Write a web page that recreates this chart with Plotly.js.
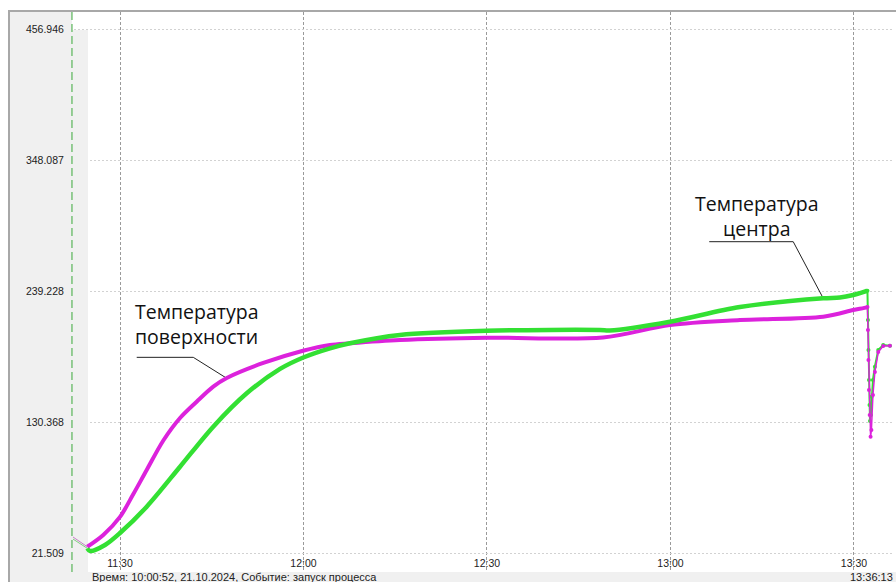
<!DOCTYPE html>
<html>
<head>
<meta charset="utf-8">
<script src="https://cdn.plot.ly/plotly-3.0.1.min.js"></script>
<style>html,body{margin:0;padding:0;background:#fff;}#chart{width:896px;height:582px;}</style>
</head>
<body>
<div id="chart"></div>
<script>
// ---- data (time of day on 21.10.2024, temperature) ----
const day = '2024-10-21 ';

// Surface temperature (magenta)
const surfaceLeadTime = ['11:22:19', '11:24:39'];
const surfaceLeadTemp = [34.8, 26.7];
const surfaceTime = ['11:24:39', '11:27:16', '11:30:00', '11:32:11', '11:34:22', '11:37:05', '11:39:49', '11:42:32',
  '11:45:15', '11:47:27', '11:53:26', '11:59:55', '12:04:20', '12:07:36', '12:15:46', '12:29:57', '12:48:58',
  '12:59:55', '13:11:21', '13:24:58', '13:29:53', '13:32:04', '13:32:12'];
const surfaceTemp = [26.7, 36.5, 51.5, 70.5, 90.5, 115.0, 133.7, 147.2,
  159.7, 166.9, 179.4, 189.6, 194.4, 195.8, 198.5, 200.4, 200.6,
  211.0, 215.1, 217.9, 223.4, 225.7, 226.0];
const surfaceDropTime = ['13:32:12', '13:32:17', '13:32:22', '13:32:27', '13:32:34', '13:32:43', '13:32:51',
  '13:33:06', '13:33:25', '13:33:58', '13:34:47', '13:35:53'];
const surfaceDropTemp = [226.0, 206.8, 181.9, 157.0, 136.2, 118.2, 123.7,
  152.8, 171.9, 188.5, 193.5, 193.8];

// Center temperature (green)
const centerLeadTime = ['11:22:19', '11:24:39'];
const centerLeadTemp = [33.1, 25.4];
const centerTime = ['11:24:39', '11:25:06', '11:27:33', '11:30:00', '11:34:22', '11:39:49', '11:45:15', '11:50:43',
  '11:56:10', '11:59:58', '12:04:20', '12:07:36', '12:15:46', '12:29:57', '12:48:28', '12:50:06',
  '12:59:55', '13:11:21', '13:24:58', '13:27:42', '13:29:53', '13:32:04', '13:32:12'];
const centerTemp = [25.4, 23.2, 28.2, 38.1, 60.0, 93.2, 126.5, 154.2,
  174.5, 184.0, 191.6, 195.8, 202.7, 206.2, 206.8, 206.4,
  213.7, 225.9, 233.2, 233.8, 235.9, 239.2, 239.4];
const centerDropTime = ['13:32:12', '13:32:17', '13:32:22', '13:32:27', '13:32:32', '13:32:37', '13:32:46',
  '13:32:53', '13:33:06', '13:33:25', '13:33:58', '13:34:47', '13:35:53'];
const centerDropTemp = [239.4, 215.1, 190.2, 165.3, 144.5, 131.2, 136.2,
  151.4, 165.3, 176.3, 190.2, 194.4, 193.8];

// Axis ticks
const xTickTimes = ['11:30', '12:00', '12:30', '13:00', '13:30'];
const xTickText = ['11:30', '12:00', '12:30', '13:00', '13:30'];
const yTickVals = [21.509, 130.368, 239.228, 348.087, 456.946];
const yTickText = ['21.509', '130.368', '239.228', '348.087', '456.946'];

// Labels
const surfaceLabel = 'Температура<br>поверхности';
const centerLabel = 'Температура<br>центра';
const footerText = 'Время: 10:00:52, 21.10.2024, Событие: запуск процесса';
const endTimeText = '13:36:13';

// ---- styling ----
const MAGENTA = '#dc22dc';
const GREEN = '#33e033';
const PANEL = '#f0f0f0';
const t = a => a.map(s => day + s);

const traces = [
  {x: t(surfaceLeadTime), y: surfaceLeadTemp, mode: 'lines', line: {color: '#c77fc7', width: 1}, hoverinfo: 'skip'},
  {x: t(centerLeadTime), y: centerLeadTemp, mode: 'lines', line: {color: '#7fcf7f', width: 1}, hoverinfo: 'skip'},
  {x: t(surfaceTime), y: surfaceTemp, mode: 'lines', line: {color: MAGENTA, width: 4, shape: 'spline', smoothing: 0.9}, name: 'Температура поверхности'},
  {x: t(centerTime), y: centerTemp, mode: 'lines', line: {color: GREEN, width: 4.5, shape: 'spline', smoothing: 0.9}, name: 'Температура центра'},
  {x: t(centerDropTime), y: centerDropTemp, mode: 'lines+markers', line: {color: GREEN, width: 2}, marker: {color: GREEN, size: 4}, hoverinfo: 'skip'},
  {x: t(surfaceDropTime), y: surfaceDropTemp, mode: 'lines+markers', line: {color: MAGENTA, width: 1.5}, marker: {color: MAGENTA, size: 4}, hoverinfo: 'skip'}
];

// frame geometry (pixels)
const W = 896, H = 582, ML = 10, MR = 4, MT = 12, MB = 10;
const PW = W - ML - MR, PH = H - MT - MB;
const px = v => (v - ML) / PW;          // pixel x -> paper
const py = v => (H - MB - v) / PH;      // pixel y -> paper
const AXIS_X = 72;                      // where the value axis sits

const xRange = [day + '11:12:01', day + '13:36:13'];
const yRange = [5.72, 471.07];
const axisTime = day + '11:22:09';      // time at the value axis
const panelEndTime = day + '11:24:46';  // end of the grey strip next to the axis
const panelTopValue = 456.11;

const layout = {
  width: W, height: H,
  margin: {l: ML, r: MR, t: MT, b: MB, pad: 0},
  paper_bgcolor: '#ffffff', plot_bgcolor: '#ffffff',
  showlegend: false,
  font: {family: 'Liberation Sans, Arial, sans-serif', size: 11, color: '#222'},
  xaxis: {
    type: 'date', range: xRange.slice(),
    tickmode: 'array', tickvals: t(xTickTimes), ticktext: xTickText,
    ticklabelposition: 'inside', ticks: '',
    tickfont: {family: 'Liberation Sans, Arial, sans-serif', size: 10.5, color: '#222'},
    showgrid: true, gridcolor: '#9a9a9a', gridwidth: 1, griddash: '3px,2px',
    zeroline: false, showline: false
  },
  yaxis: {
    range: yRange.slice(),
    anchor: 'free', position: px(AXIS_X),
    tickmode: 'array', tickvals: yTickVals, ticktext: yTickText,
    ticks: 'outside', ticklen: 6, tickcolor: 'rgba(0,0,0,0)',
    tickfont: {family: 'Liberation Sans, Arial, sans-serif', size: 10.5, color: '#222'},
    showgrid: true, gridcolor: '#d2d2d2', gridwidth: 1, griddash: '2px,2px',
    zeroline: false, showline: false
  },
  shapes: [
    // grey label panel and grey strip next to the axis (above grid, below traces)
    {type: 'rect', xref: 'x', yref: 'y', x0: xRange[0], x1: axisTime, y0: yRange[0], y1: yRange[1], fillcolor: PANEL, line: {width: 0}, layer: 'between'},
    {type: 'rect', xref: 'x', yref: 'y', x0: axisTime, x1: panelEndTime, y0: yRange[0], y1: panelTopValue, fillcolor: PANEL, line: {width: 0}, layer: 'between'},
    // green dashed event line at the axis
    {type: 'line', xref: 'x', yref: 'y', x0: axisTime, x1: axisTime, y0: yRange[0], y1: yRange[1], line: {color: '#3aa83a', width: 1, dash: '8px,4px'}, layer: 'between'},
    // callout leaders
    {type: 'line', xref: 'x', yref: 'y', x0: day + '11:32:44', x1: day + '11:41:59', y0: 184.1, y1: 184.1, line: {color: '#222', width: 1}, layer: 'between'},
    {type: 'line', xref: 'x', yref: 'y', x0: day + '11:41:59', x1: day + '11:47:27', y0: 184.1, y1: 166.7, line: {color: '#222', width: 1}, layer: 'between'},
    {type: 'line', xref: 'x', yref: 'y', x0: day + '13:06:20', x1: day + '13:20:04', y0: 280.2, y1: 280.2, line: {color: '#222', width: 1}, layer: 'between'},
    {type: 'line', xref: 'x', yref: 'y', x0: day + '13:20:04', x1: day + '13:24:58', y0: 280.2, y1: 233.2, line: {color: '#222', width: 1}, layer: 'between'},
    // bottom status strip and frame lines (outside the plot area)
    {type: 'rect', xref: 'paper', yref: 'paper', x0: px(8), x1: px(896), y0: py(582), y1: 0, fillcolor: PANEL, line: {width: 0}, layer: 'below'},
    {type: 'line', xref: 'paper', yref: 'paper', x0: px(8), x1: px(896), y0: py(11), y1: py(11), line: {color: '#a8a8a8', width: 2}, layer: 'below'},
    {type: 'line', xref: 'paper', yref: 'paper', x0: px(9), x1: px(9), y0: py(582), y1: py(11), line: {color: '#a8a8a8', width: 2}, layer: 'below'}
  ],
  annotations: [
    {text: surfaceLabel, xref: 'x', yref: 'y', x: day + '11:32:08', y: 211.8, xanchor: 'left', yanchor: 'middle', align: 'left', showarrow: false,
      font: {family: 'Open Sans, Noto Sans, sans-serif', size: 19.5, color: '#111'}},
    {text: centerLabel, xref: 'x', yref: 'y', x: day + '13:14:08', y: 301.6, xanchor: 'center', yanchor: 'middle', align: 'center', showarrow: false,
      font: {family: 'Open Sans, Noto Sans, sans-serif', size: 19.5, color: '#111'}},
    {text: footerText, xref: 'paper', yref: 'paper', x: px(234), y: py(576.5), xanchor: 'center', yanchor: 'middle', showarrow: false, borderpad: 0,
      font: {family: 'Liberation Sans, Arial, sans-serif', size: 11, color: '#222'}},
    {text: endTimeText, xref: 'paper', yref: 'paper', x: px(894), y: py(576.5), xanchor: 'right', yanchor: 'middle', showarrow: false, borderpad: 0,
      font: {family: 'Liberation Sans, Arial, sans-serif', size: 11, color: '#222'}}
  ]
};

Plotly.newPlot('chart', traces, layout, {displayModeBar: false, staticPlot: true});
</script>
</body>
</html>
